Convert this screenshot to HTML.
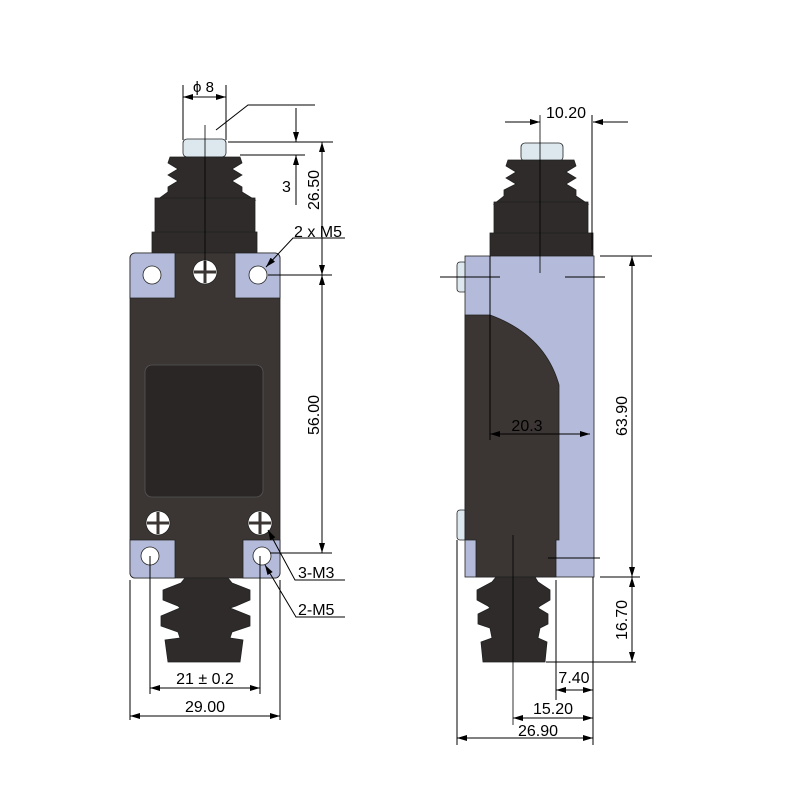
<!DOCTYPE html>
<html><head><style>body{margin:0;background:#fff}svg{display:block}</style></head><body>
<svg width="800" height="800" viewBox="0 0 800 800" xmlns="http://www.w3.org/2000/svg" font-family="Liberation Sans, sans-serif" font-size="16">
<defs>
<marker id="a" viewBox="0 0 10 6" refX="10" refY="3" markerWidth="10" markerHeight="6" orient="auto-start-reverse" markerUnits="userSpaceOnUse"><path d="M0,0L10,3L0,6z" fill="#000"/></marker>
</defs>
<g stroke="#222" stroke-width="0.8">
<!-- LEFT VIEW -->
<rect x="183" y="139" width="43" height="18" rx="4" fill="#dce8ee"/>
<path d="M170,157H240L242,163L232,169L242,175L232,181L242,187V192L255,200H157L168,192V187L178,181L168,175L178,169L168,163Z" fill="#2e2b2a"/>
<rect x="155" y="198" width="100" height="36" fill="#2e2b2a"/>
<rect x="152" y="232" width="105" height="22" fill="#2e2b2a"/>
<rect x="130" y="253" width="150" height="325" rx="5" fill="#3b3634"/>
<path d="M130,258a5,5 0 0 1 5,-5H175V298H130Z" fill="#b4bbda"/>
<path d="M235,253H275a5,5 0 0 1 5,5V298H235Z" fill="#b4bbda"/>
<path d="M130,540H175V578H135a5,5 0 0 1 -5,-5Z" fill="#b4bbda"/>
<path d="M243,540H280V573a5,5 0 0 1 -5,5H243Z" fill="#b4bbda"/>
<rect x="145" y="365" width="118" height="132" rx="7" fill="#2a2625" stroke="#555"/>
<circle cx="152" cy="275" r="9" fill="#fff"/><circle cx="258" cy="275" r="9" fill="#fff"/>
<circle cx="150" cy="556" r="9" fill="#fff"/><circle cx="262" cy="556" r="9" fill="#fff"/>
<g fill="#fff"><circle cx="205" cy="272" r="12"/><circle cx="158" cy="523" r="12"/><circle cx="260" cy="523" r="12"/></g>
<g stroke="#3b3634" stroke-width="3"><path d="M205,261V283M194,272H216M158,512V534M147,523H169M260,512V534M249,523H271"/></g>
<path d="M185,578H228L232,583L250,590V600L236,606L230,608L250,616V626L232,632L230,638L243,640L240,662H168L165,640L180,638L178,632L161,626V616L180,608L178,606L163,600V590L181,583Z" fill="#2e2b2a"/>
<!-- RIGHT VIEW -->
<rect x="521" y="143" width="42" height="18" rx="4" fill="#dce8ee"/>
<path d="M508,160H574L576,166L566,172L576,178L566,184L576,190V196L588,204H494L504,196V190L516,184L506,178L516,172L506,166Z" fill="#2e2b2a"/>
<rect x="494" y="202" width="94" height="32" fill="#2e2b2a"/>
<rect x="490" y="233" width="103" height="23" fill="#2e2b2a"/>
<rect x="457" y="262" width="10" height="30" rx="3" fill="#dce8ee"/>
<rect x="457" y="510" width="10" height="30" rx="3" fill="#dce8ee"/>
<rect x="465" y="256" width="129" height="321" fill="#b4bbda"/>
<path d="M465,315H490Q545,335 559,385V540H556V577H476V540H465Z" fill="#3b3634"/>
<path d="M496,577H535L538,582L550,590V600L540,606L538,608L548,614V624L540,628L538,638L547,642L545,662H483L481,642L492,638L490,628L478,624V614L490,608L488,606L477,600V590L492,582Z" fill="#2e2b2a"/>
</g>
<g stroke="#000" stroke-width="1" fill="none">
<path d="M205,125V270M540,115V273M513,535V725" stroke-width="0.8"/>
<!-- left dims -->
<path d="M183,85V140M226,85V140"/>
<path d="M183,97H226" marker-start="url(#a)" marker-end="url(#a)"/>
<path d="M216,130L248,105H315M228,142H333M240,155H305"/>
<path d="M296,108V142" marker-end="url(#a)"/>
<path d="M296,205V155" marker-end="url(#a)"/>
<path d="M322,142V275" marker-start="url(#a)" marker-end="url(#a)"/>
<path d="M268,275H332"/>
<path d="M322,275V553" marker-start="url(#a)" marker-end="url(#a)"/>
<path d="M270,553H332"/>
<path d="M345,238H293L266,267" marker-end="url(#a)"/>
<path d="M345,580H295L268,530" marker-end="url(#a)"/>
<path d="M345,617H296L265,565" marker-end="url(#a)"/>
<path d="M150,556V694M260,556V694M130,580V720M280,580V720"/>
<path d="M150,688H260" marker-start="url(#a)" marker-end="url(#a)"/>
<path d="M130,716H280" marker-start="url(#a)" marker-end="url(#a)"/>
<!-- right dims -->
<path d="M505,122H540" marker-end="url(#a)"/>
<path d="M628,122H593" marker-end="url(#a)"/>
<path d="M592,115V250M440,277H500M565,277H605"/>
<path d="M600,256H652M600,577H640"/>
<path d="M632,256V577" marker-start="url(#a)" marker-end="url(#a)"/>
<path d="M632,577V662" marker-start="url(#a)" marker-end="url(#a)"/>
<path d="M546,662H636"/>
<path d="M490,256V440"/>
<path d="M490,434H590" marker-start="url(#a)" marker-end="url(#a)"/>
<path d="M556,580V700M593,577V745M457,540V745"/>
<path d="M556,690H593" marker-start="url(#a)" marker-end="url(#a)"/>
<path d="M513,718H593" marker-start="url(#a)" marker-end="url(#a)"/>
<path d="M457,738H593" marker-start="url(#a)" marker-end="url(#a)"/>
<path d="M548,558H600"/>
</g>
<g fill="#000">
<text x="193" y="92" font-size="15">ϕ 8</text>
<text x="282" y="192">3</text>
<text transform="translate(319,190) rotate(-90)" text-anchor="middle">26.50</text>
<text transform="translate(319,415) rotate(-90)" text-anchor="middle">56.00</text>
<text x="294" y="237">2 x M5</text>
<text x="298" y="578">3-M3</text>
<text x="298" y="615">2-M5</text>
<text x="205" y="684" text-anchor="middle">21 ± 0.2</text>
<text x="205" y="712" text-anchor="middle">29.00</text>
<text x="566" y="118" text-anchor="middle">10.20</text>
<text x="527" y="431" text-anchor="middle">20.3</text>
<text transform="translate(627,416) rotate(-90)" text-anchor="middle">63.90</text>
<text transform="translate(627,620) rotate(-90)" text-anchor="middle">16.70</text>
<text x="574" y="683" text-anchor="middle">7.40</text>
<text x="553" y="714" text-anchor="middle">15.20</text>
<text x="538" y="736" text-anchor="middle">26.90</text>
</g>
</svg>
</body></html>
